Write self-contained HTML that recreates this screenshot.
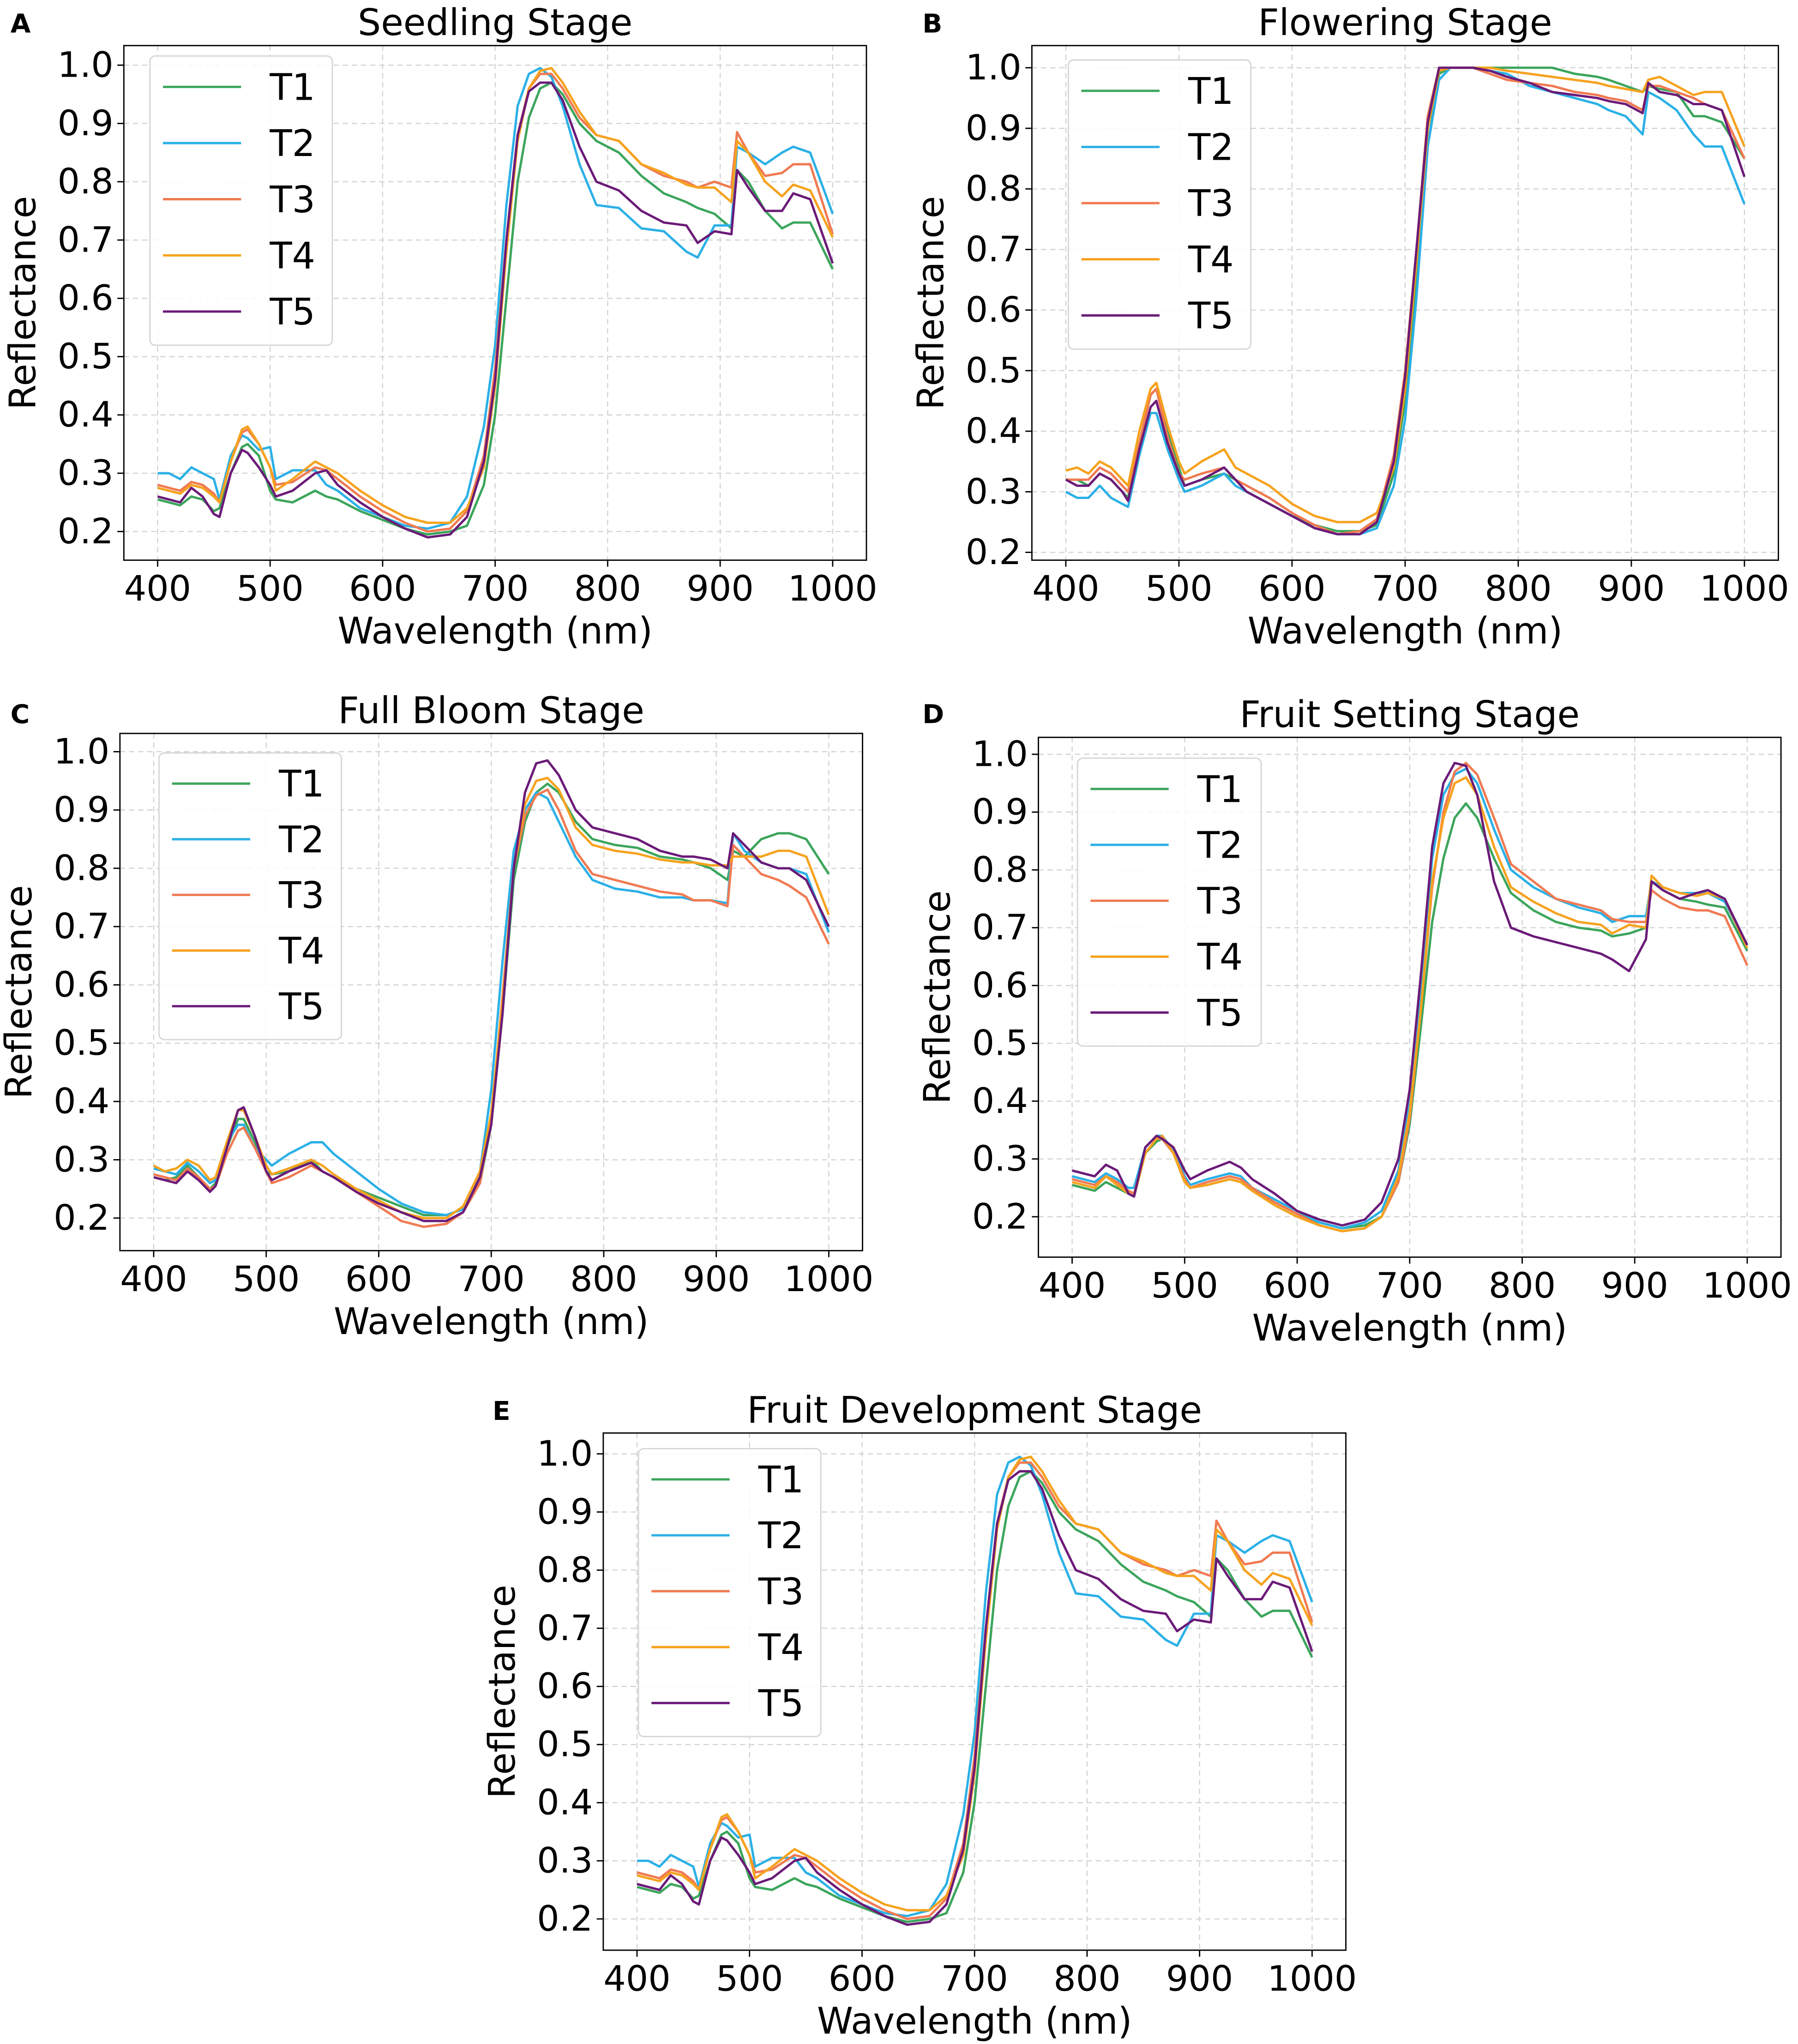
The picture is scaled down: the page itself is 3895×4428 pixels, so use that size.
<!DOCTYPE html>
<html><head><meta charset="utf-8">
<style>
html,body{margin:0;padding:0;background:#fff;}
svg{display:block;}
text{font-family:"DejaVu Sans","Liberation Sans",sans-serif;fill:#000;}
</style></head>
<body>
<svg id="fig" xmlns="http://www.w3.org/2000/svg" width="3895" height="4428" viewBox="0 0 1380 1569"></svg>
<script>
const wavelengths=[400,410,420,430,440,450,455,465,475,480,490,500,505,520,540,550,560,580,600,620,640,660,675,690,700,710,720,730,740,750,760,775,790,810,830,850,870,880,895,910,915,925,940,955,965,980,1000];
const seriesNames=["T1","T2","T3","T4","T5"];
const yTicks=[0.2,0.3,0.4,0.5,0.6,0.7,0.8,0.9,1.0];
const xTicks=[400,500,600,700,800,900,1000];
const seedlingT1=[.255,.25,.245,.26,.255,.235,.24,.30,.345,.35,.33,.27,.255,.25,.27,.26,.255,.235,.22,.205,.195,.20,.21,.28,.40,.60,.80,.91,.96,.97,.95,.90,.87,.85,.81,.78,.765,.755,.745,.72,.82,.80,.75,.72,.73,.73,.65];
const seedlingT2=[.30,.30,.29,.31,.30,.29,.255,.33,.365,.36,.34,.345,.29,.305,.305,.28,.27,.24,.225,.21,.205,.215,.26,.38,.52,.76,.93,.985,.995,.98,.93,.83,.76,.755,.72,.715,.68,.67,.725,.725,.86,.85,.83,.85,.86,.85,.745];
const seedlingT3=[.28,.275,.27,.285,.28,.265,.25,.32,.37,.375,.35,.31,.28,.285,.31,.305,.29,.26,.235,.215,.20,.205,.235,.33,.48,.70,.88,.96,.985,.985,.96,.91,.88,.87,.83,.81,.80,.79,.80,.79,.885,.85,.81,.815,.83,.83,.71];
const seedlingT4=[.275,.27,.265,.28,.275,.26,.25,.32,.375,.38,.35,.31,.27,.29,.32,.31,.30,.27,.245,.225,.215,.215,.24,.31,.45,.68,.87,.96,.99,.995,.97,.92,.88,.87,.83,.815,.795,.79,.79,.765,.87,.85,.80,.775,.795,.785,.705];
const seedlingT5=[.26,.255,.25,.275,.26,.23,.225,.30,.34,.335,.31,.28,.26,.27,.30,.305,.28,.25,.225,.205,.19,.195,.225,.32,.46,.70,.88,.955,.97,.97,.94,.86,.80,.785,.75,.73,.725,.695,.715,.71,.82,.79,.75,.75,.78,.77,.66];
const floweringT1=[.32,.32,.31,.33,.32,.30,.29,.38,.46,.47,.40,.34,.31,.32,.33,.32,.30,.28,.26,.245,.235,.235,.245,.33,.45,.65,.87,.99,1.0,1.0,1.0,1.0,1.0,1.0,1.0,.99,.985,.98,.97,.96,.97,.965,.96,.92,.92,.91,.85];
const floweringT2=[.30,.29,.29,.31,.29,.28,.275,.36,.43,.43,.37,.32,.30,.31,.33,.31,.30,.28,.26,.24,.23,.23,.24,.31,.42,.62,.87,.98,1.0,1.0,1.0,.995,.99,.97,.96,.95,.94,.93,.92,.89,.96,.95,.93,.89,.87,.87,.775];
const floweringT3=[.32,.32,.32,.34,.33,.31,.30,.38,.46,.47,.39,.33,.32,.33,.34,.32,.31,.29,.265,.245,.23,.235,.255,.36,.50,.70,.92,1.0,1.0,1.0,1.0,.99,.98,.975,.97,.96,.955,.95,.945,.93,.97,.97,.96,.95,.94,.93,.85];
const floweringT4=[.335,.34,.33,.35,.34,.32,.31,.40,.47,.48,.41,.35,.33,.35,.37,.34,.33,.31,.28,.26,.25,.25,.265,.34,.47,.68,.90,.995,1.0,1.0,1.0,1.0,.995,.99,.985,.98,.975,.97,.965,.96,.98,.985,.97,.955,.96,.96,.87];
const floweringT5=[.32,.31,.31,.33,.32,.30,.285,.37,.44,.45,.38,.33,.31,.32,.34,.32,.30,.28,.26,.24,.23,.23,.25,.35,.49,.70,.91,1.0,1.0,1.0,1.0,.995,.985,.975,.96,.955,.95,.945,.94,.925,.975,.96,.955,.94,.94,.93,.82];
const bloomT1=[.27,.265,.27,.29,.27,.25,.26,.32,.37,.37,.33,.28,.275,.28,.30,.28,.27,.25,.235,.22,.205,.205,.215,.26,.36,.55,.78,.88,.93,.945,.93,.88,.85,.84,.835,.82,.815,.81,.80,.78,.83,.82,.85,.86,.86,.85,.79];
const bloomT2=[.285,.28,.275,.295,.28,.26,.265,.33,.36,.36,.32,.30,.29,.31,.33,.33,.31,.28,.25,.225,.21,.205,.215,.28,.42,.64,.83,.90,.93,.92,.88,.82,.78,.765,.76,.75,.75,.745,.745,.74,.86,.83,.81,.80,.80,.79,.69];
const bloomT3=[.275,.27,.265,.285,.27,.25,.255,.31,.35,.355,.32,.28,.26,.27,.29,.28,.27,.245,.22,.195,.185,.19,.21,.26,.37,.58,.80,.89,.925,.935,.90,.83,.79,.78,.77,.76,.755,.745,.745,.735,.84,.82,.79,.78,.77,.75,.67];
const bloomT4=[.29,.28,.285,.30,.29,.265,.27,.33,.385,.385,.34,.29,.275,.285,.30,.29,.275,.25,.23,.21,.20,.20,.22,.28,.38,.57,.80,.91,.95,.955,.935,.87,.84,.83,.825,.815,.81,.81,.805,.805,.82,.82,.82,.83,.83,.82,.72];
const bloomT5=[.27,.265,.26,.28,.265,.245,.255,.32,.385,.39,.34,.28,.265,.28,.295,.28,.27,.245,.225,.21,.195,.195,.21,.27,.36,.55,.80,.93,.98,.985,.96,.90,.87,.86,.85,.83,.82,.82,.815,.80,.86,.84,.81,.80,.80,.78,.70];
const settingT1=[.255,.25,.245,.26,.25,.24,.235,.31,.33,.335,.31,.26,.25,.255,.265,.26,.245,.225,.205,.19,.18,.185,.20,.26,.36,.53,.71,.82,.89,.915,.89,.82,.76,.73,.71,.70,.695,.685,.69,.70,.78,.765,.75,.745,.74,.735,.66];
const settingT2=[.27,.265,.26,.275,.265,.25,.25,.32,.34,.34,.315,.27,.255,.265,.275,.27,.25,.23,.21,.19,.18,.19,.21,.28,.40,.60,.82,.93,.965,.975,.95,.87,.80,.77,.75,.735,.725,.71,.72,.72,.78,.77,.76,.76,.76,.745,.67];
const settingT3=[.265,.26,.255,.27,.26,.245,.24,.31,.335,.335,.31,.265,.25,.26,.27,.265,.25,.225,.205,.185,.175,.18,.20,.26,.37,.56,.77,.90,.97,.985,.965,.89,.81,.78,.75,.74,.73,.715,.71,.71,.765,.75,.735,.73,.73,.72,.635];
const settingT4=[.26,.255,.25,.27,.255,.24,.235,.31,.335,.34,.31,.26,.25,.255,.265,.26,.245,.22,.20,.185,.175,.18,.20,.27,.38,.56,.78,.89,.95,.96,.93,.84,.77,.745,.725,.71,.705,.69,.705,.70,.79,.77,.76,.755,.76,.75,.665];
const settingT5=[.28,.275,.27,.29,.28,.24,.235,.32,.34,.335,.32,.28,.265,.28,.295,.285,.265,.24,.21,.195,.185,.195,.225,.30,.42,.62,.84,.95,.985,.98,.93,.78,.70,.685,.675,.665,.655,.645,.625,.68,.78,.765,.75,.76,.765,.75,.67];
const developmentT1=seedlingT1.slice(),developmentT2=seedlingT2.slice(),developmentT3=seedlingT3.slice(),developmentT4=seedlingT4.slice(),developmentT5=seedlingT5.slice();

const colors=["#3ca55c","#2bb0e6","#f07a52","#f6a21e","#6b1a78"];
const panels=[
 {id:"a",letter:"A",title:"Seedling Stage",L:95,R:665,T:35,B:430,y1:50,y2:408,lx:115,ly:43,lx2:255,ly2:265,lettX:8,lettY:25,data:[seedlingT1,seedlingT2,seedlingT3,seedlingT4,seedlingT5]},
 {id:"b",letter:"B",title:"Flowering Stage",L:792,R:1365,T:35,B:430,y1:52,y2:424,lx:820,ly:46,lx2:960,ly2:268,lettX:708,lettY:25,data:[floweringT1,floweringT2,floweringT3,floweringT4,floweringT5]},
 {id:"c",letter:"C",title:"Full Bloom Stage",L:92,R:662,T:563,B:960,y1:577,y2:935,lx:122,ly:578,lx2:262,ly2:798,lettX:8,lettY:555,data:[bloomT1,bloomT2,bloomT3,bloomT4,bloomT5]},
 {id:"d",letter:"D",title:"Fruit Setting Stage",L:797,R:1367,T:566,B:965,y1:579,y2:934,lx:827,ly:582,lx2:968,ly2:803,lettX:708,lettY:555,data:[settingT1,settingT2,settingT3,settingT4,settingT5]},
 {id:"e",letter:"E",title:"Fruit Development Stage",L:463,R:1033,T:1100,B:1497,y1:1116,y2:1473,lx:490,ly:1112,lx2:630,ly2:1333,lettX:378,lettY:1090,data:[developmentT1,developmentT2,developmentT3,developmentT4,developmentT5]}
];
const NS="http://www.w3.org/2000/svg";
const svg=document.getElementById("fig");
function mk(tag,attrs,parent){const e=document.createElementNS(NS,tag);for(const k in attrs)e.setAttribute(k,attrs[k]);(parent||svg).appendChild(e);return e;}
panels.forEach(p=>{
 const g=mk("g",{});
 
 
 const xs=v=>p.L+(v-370)/660*(p.R-p.L);
 const ys=v=>p.y2+(v-0.2)/0.8*(p.y1-p.y2);
 xTicks.forEach(t=>{
  const l=mk("line",{x1:xs(t),x2:xs(t),y1:p.T,y2:p.B,stroke:"#d0d0d0","stroke-width":0.8,"stroke-dasharray":"4,3"},g);
  
  
  const tk=mk("line",{x1:xs(t),x2:xs(t),y1:p.B,y2:p.B+5,stroke:"#000","stroke-width":1},g);
  
  
  const tx=mk("text",{x:xs(t),y:p.B+31,"text-anchor":"middle","font-size":27},g);
  tx.textContent=t;
  
  
 });
 yTicks.forEach(t=>{
  const l=mk("line",{x1:p.L,x2:p.R,y1:ys(t),y2:ys(t),stroke:"#d0d0d0","stroke-width":0.8,"stroke-dasharray":"4,3"},g);
  
  
  const tk=mk("line",{x1:p.L-5,x2:p.L,y1:ys(t),y2:ys(t),stroke:"#000","stroke-width":1},g);
  
  
  const tx=mk("text",{x:p.L-8,y:ys(t)+9,"text-anchor":"end","font-size":27},g);
  tx.textContent=t.toFixed(1);
  
  
 });
 p.data.forEach((s,i)=>{
  const d=s.map((v,j)=>(j?"L":"M")+xs(wavelengths[j]).toFixed(2)+","+ys(v).toFixed(2)).join("");
  const pa=mk("path",{d:d,fill:"none",stroke:colors[i],"stroke-width":1.8,"stroke-linejoin":"round"},g);
  
  
 });
 const fr=mk("rect",{x:p.L,y:p.T,width:p.R-p.L,height:p.B-p.T,fill:"none",stroke:"#000","stroke-width":1},g);
 
 
 const lg=mk("rect",{x:p.lx,y:p.ly,width:p.lx2-p.lx,height:p.ly2-p.ly,rx:4,fill:"#fff","fill-opacity":0.85,stroke:"#d5d5d5","stroke-width":1},g);
 
 
 const step=(p.ly2-p.ly)/5.15;
 seriesNames.forEach((n,i)=>{
  const yy=p.ly+step*(0.55+i);
  const ll=mk("line",{x1:p.lx+10,x2:p.lx+70,y1:yy,y2:yy,stroke:colors[i],"stroke-width":1.8},g);
  
  
  const lt=mk("text",{x:p.lx+92,y:yy+10,"font-size":28},g);
  lt.textContent=n;
  
  
 });
 const ti=mk("text",{x:(p.L+p.R)/2,y:p.T-8,"text-anchor":"middle","font-size":28},g);
 ti.textContent=p.title;
 
 
 const xl=mk("text",{x:(p.L+p.R)/2,y:p.B+64,"text-anchor":"middle","font-size":28},g);
 xl.textContent="Wavelength (nm)";
 
 
 const cy=(p.T+p.B)/2, cx=p.L-68;
 const yl=mk("text",{x:cx,y:cy,"text-anchor":"middle","font-size":28,transform:"rotate(-90 "+cx+" "+cy+")"},g);
 yl.textContent="Reflectance";
 
 
 const le=mk("text",{x:p.lettX,y:p.lettY,"font-size":20,"font-weight":"bold"},g);
 le.textContent=p.letter;
 
 
});
</script>
</body></html>
